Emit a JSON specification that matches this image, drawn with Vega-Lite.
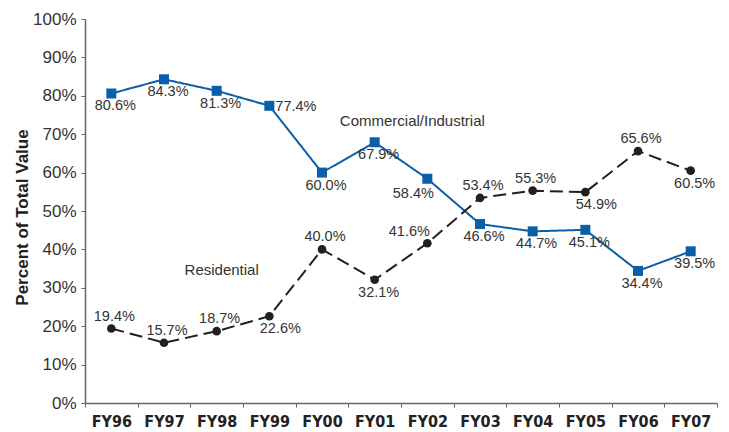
{
  "$schema": "https://vega.github.io/schema/vega-lite/v6.json",
  "width": 632,
  "height": 384,
  "autosize": {"type": "none"},
  "padding": {"left": 85, "top": 19, "right": 12, "bottom": 29},
  "background": "white",
  "config": {
    "view": {"stroke": null},
    "font": "Liberation Sans",
    "text": {"font": "Liberation Sans", "fontSize": 14.5, "color": "#333333"}
  },
  "datasets": {
    "share": [
      {"year": "FY96", "series": "Commercial/Industrial", "value": 80.6},
      {"year": "FY97", "series": "Commercial/Industrial", "value": 84.3},
      {"year": "FY98", "series": "Commercial/Industrial", "value": 81.3},
      {"year": "FY99", "series": "Commercial/Industrial", "value": 77.4},
      {"year": "FY00", "series": "Commercial/Industrial", "value": 60.0},
      {"year": "FY01", "series": "Commercial/Industrial", "value": 67.9},
      {"year": "FY02", "series": "Commercial/Industrial", "value": 58.4},
      {"year": "FY03", "series": "Commercial/Industrial", "value": 46.6},
      {"year": "FY04", "series": "Commercial/Industrial", "value": 44.7},
      {"year": "FY05", "series": "Commercial/Industrial", "value": 45.1},
      {"year": "FY06", "series": "Commercial/Industrial", "value": 34.4},
      {"year": "FY07", "series": "Commercial/Industrial", "value": 39.5},
      {"year": "FY96", "series": "Residential", "value": 19.4},
      {"year": "FY97", "series": "Residential", "value": 15.7},
      {"year": "FY98", "series": "Residential", "value": 18.7},
      {"year": "FY99", "series": "Residential", "value": 22.6},
      {"year": "FY00", "series": "Residential", "value": 40.0},
      {"year": "FY01", "series": "Residential", "value": 32.1},
      {"year": "FY02", "series": "Residential", "value": 41.6},
      {"year": "FY03", "series": "Residential", "value": 53.4},
      {"year": "FY04", "series": "Residential", "value": 55.3},
      {"year": "FY05", "series": "Residential", "value": 54.9},
      {"year": "FY06", "series": "Residential", "value": 65.6},
      {"year": "FY07", "series": "Residential", "value": 60.5}
    ],
    "seriesNames": [
      {"year": "FY02", "value": 73.4, "name": "Commercial/Industrial"},
      {"year": "FY98", "value": 34.6, "name": "Residential"}
    ]
  },
  "data": {"name": "share"},
  "transform": [{"calculate": "format(datum.value, '.1f') + '%'", "as": "label"}],
  "encoding": {
    "x": {
      "field": "year",
      "type": "ordinal",
      "sort": null,
      "bandPosition": 0.5,
      "scale": {"type": "band", "paddingInner": 0, "paddingOuter": 0},
      "axis": {
        "title": null,
        "labelAngle": 0,
        "labelFont": "DejaVu Sans Condensed, Liberation Sans",
        "labelFontWeight": "bold",
        "labelFontSize": 16,
        "labelColor": "#222222",
        "labelPadding": 6,
        "tickBand": "extent",
        "tickSize": 4,
        "tickColor": "#666666",
        "domainColor": "#666666",
        "domainWidth": 1.5,
        "grid": false
      }
    },
    "y": {
      "field": "value",
      "type": "quantitative",
      "scale": {"domain": [0, 100], "nice": false},
      "axis": {
        "title": "Percent of Total Value",
        "titleFont": "Liberation Sans",
        "titleFontSize": 17,
        "titleFontWeight": "bold",
        "titleColor": "#222222",
        "titleAngle": -90,
        "titleAlign": "center",
        "titleBaseline": "alphabetic",
        "titleX": -58,
        "titleY": 198,
        "values": [0, 10, 20, 30, 40, 50, 60, 70, 80, 90, 100],
        "labelExpr": "datum.value + '%'",
        "labelFontSize": 17,
        "labelColor": "#333333",
        "labelPadding": 5,
        "tickSize": 4,
        "tickColor": "#666666",
        "domainColor": "#666666",
        "domainWidth": 1.5,
        "grid": false
      }
    }
  },
  "layer": [
    {
      "mark": {"type": "line", "strokeWidth": 2},
      "encoding": {
        "color": {
          "field": "series",
          "type": "nominal",
          "scale": {"domain": ["Commercial/Industrial", "Residential"], "range": ["#0b5ea8", "#231f20"]},
          "legend": null
        },
        "strokeDash": {
          "field": "series",
          "type": "nominal",
          "scale": {"domain": ["Commercial/Industrial", "Residential"], "range": [[1, 0], [13, 6]]},
          "legend": null
        }
      }
    },
    {
      "mark": {"type": "point", "filled": true, "opacity": 1},
      "encoding": {
        "color": {
          "field": "series",
          "type": "nominal",
          "scale": {"domain": ["Commercial/Industrial", "Residential"], "range": ["#0b5ea8", "#231f20"]},
          "legend": null
        },
        "shape": {
          "field": "series",
          "type": "nominal",
          "scale": {"domain": ["Commercial/Industrial", "Residential"], "range": ["square", "circle"]},
          "legend": null
        },
        "size": {
          "field": "series",
          "type": "nominal",
          "scale": {"domain": ["Commercial/Industrial", "Residential"], "range": [100, 75]},
          "legend": null
        }
      }
    },
    {
      "transform": [{"filter": "(datum.series == 'Commercial/Industrial' && datum.year != 'FY99' && datum.year != 'FY02') || (datum.series == 'Residential' && (datum.year == 'FY01' || datum.year == 'FY07'))"}],
      "mark": {"type": "text", "dx": 4, "dy": 13, "baseline": "middle"},
      "encoding": {"text": {"field": "label"}}
    },
    {
      "transform": [{"filter": "datum.series == 'Residential' && indexof(['FY96','FY97','FY98','FY00','FY03','FY04','FY06'], datum.year) >= 0"}],
      "mark": {"type": "text", "dx": 3, "dy": -12, "baseline": "middle"},
      "encoding": {"text": {"field": "label"}}
    },
    {
      "transform": [{"filter": "datum.series == 'Residential' && (datum.year == 'FY99' || datum.year == 'FY05')"}],
      "mark": {"type": "text", "dx": 11, "dy": 13, "baseline": "middle"},
      "encoding": {"text": {"field": "label"}}
    },
    {
      "transform": [{"filter": "datum.series == 'Commercial/Industrial' && datum.year == 'FY02'"}],
      "mark": {"type": "text", "dx": -14, "dy": 15, "baseline": "middle"},
      "encoding": {"text": {"field": "label"}}
    },
    {
      "transform": [{"filter": "datum.series == 'Residential' && datum.year == 'FY02'"}],
      "mark": {"type": "text", "dx": -18, "dy": -11, "baseline": "middle"},
      "encoding": {"text": {"field": "label"}}
    },
    {
      "transform": [{"filter": "datum.series == 'Commercial/Industrial' && datum.year == 'FY99'"}],
      "mark": {"type": "text", "align": "left", "dx": 6, "dy": 1, "baseline": "middle"},
      "encoding": {"text": {"field": "label"}}
    },
    {
      "data": {"name": "seriesNames"},
      "transform": [{"filter": "datum.name == 'Commercial/Industrial'"}],
      "mark": {"type": "text", "fontSize": 15, "dx": -15, "baseline": "middle"},
      "encoding": {"text": {"field": "name"}}
    },
    {
      "data": {"name": "seriesNames"},
      "transform": [{"filter": "datum.name == 'Residential'"}],
      "mark": {"type": "text", "fontSize": 15, "dx": 5, "baseline": "middle"},
      "encoding": {"text": {"field": "name"}}
    }
  ]
}
